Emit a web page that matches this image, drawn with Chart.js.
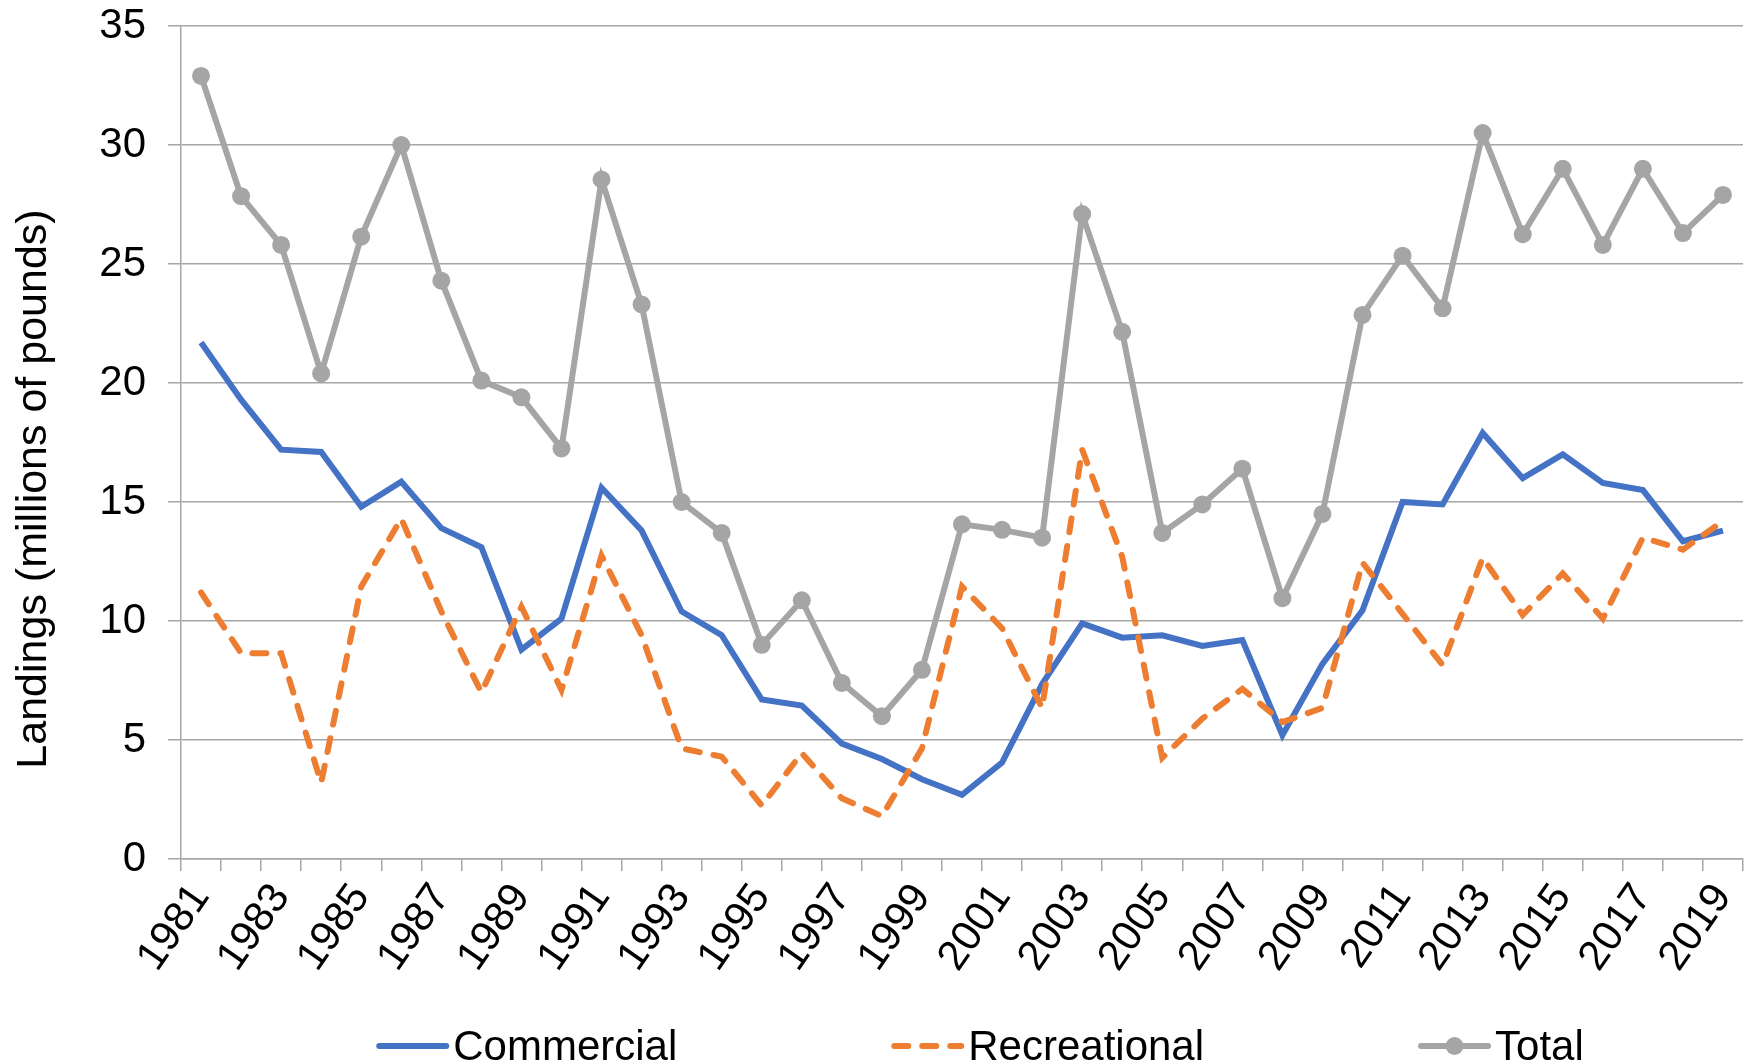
<!DOCTYPE html>
<html>
<head>
<meta charset="utf-8">
<script src="https://cdn.jsdelivr.net/npm/chart.js@4.4.1/dist/chart.umd.min.js"></script>
<style>
  html, body { margin: 0; padding: 0; background: #fff; }
  canvas { display: block; }
</style>
</head>
<body>
<canvas id="myChart" width="1754" height="1064"></canvas>
<script>
const years = [
  "1981", "1982", "1983", "1984", "1985", "1986", "1987", "1988", "1989", "1990",
  "1991", "1992", "1993", "1994", "1995", "1996", "1997", "1998", "1999", "2000",
  "2001", "2002", "2003", "2004", "2005", "2006", "2007", "2008", "2009", "2010",
  "2011", "2012", "2013", "2014", "2015", "2016", "2017", "2018", "2019",
];
const commercial = [
  21.7, 19.3, 17.2, 17.1, 14.8, 15.85, 13.9, 13.1, 8.8, 10.1,
  15.6, 13.8, 10.4, 9.4, 6.7, 6.45, 4.85, 4.2, 3.35, 2.7,
  4.05, 7.35, 9.9, 9.3, 9.4, 8.95, 9.2, 5.2, 8.2, 10.45,
  15.0, 14.9, 17.9, 16.0, 17.0, 15.8, 15.5, 13.35, 13.8,
];
const recreational = [
  11.2, 8.65, 8.65, 3.2, 11.45, 14.3, 10.4, 7.0, 10.6, 7.1,
  12.75, 9.4, 4.65, 4.3, 2.25, 4.45, 2.55, 1.8, 4.65, 11.45,
  9.7, 6.35, 17.2, 12.7, 4.25, 5.9, 7.15, 5.75, 6.35, 12.45,
  10.3, 8.15, 12.65, 10.25, 12.0, 10.1, 13.5, 13.0, 14.2,
];
const total = [
  32.9, 27.85, 25.8, 20.4, 26.15, 30.0, 24.3, 20.1, 19.4, 17.25,
  28.55, 23.3, 15.0, 13.7, 9.0, 10.87, 7.4, 6.0, 7.95, 14.06,
  13.83, 13.5, 27.1, 22.15, 13.7, 14.9, 16.4, 10.96, 14.5, 22.86,
  25.35, 23.14, 30.5, 26.25, 29.0, 25.8, 29.0, 26.3, 27.9,
];
const yTitle = "Landings (millions of pounds)";

const FONT = "'Liberation Sans', Arial, sans-serif";
const gridGray = "#a6a6a6";

// y title sits a bit below the axis middle in the original, so draw it here
const sideTitle = {
  id: "sideTitle",
  afterDraw(chart) {
    const ctx = chart.ctx;
    ctx.save();
    ctx.translate(34, 489);
    ctx.rotate(-Math.PI / 2);
    ctx.font = "43px " + FONT;
    ctx.fillStyle = "#000";
    ctx.textAlign = "center";
    ctx.textBaseline = "middle";
    ctx.fillText(yTitle, 0, 0);
    ctx.restore();
  },
};

// Excel-style legend: line sample (with marker for Total) then text
const bottomLegend = {
  id: "bottomLegend",
  afterDraw(chart) {
    const ctx = chart.ctx;
    const items = chart.data.datasets.map((ds) => ({
      text: ds.label,
      color: ds.borderColor,
      dash: ds.borderDash || [],
      marker: ds.pointRadius > 0,
    }));
    const lineLen = 73;
    const gap = 4;
    const itemGap = 214;
    ctx.save();
    ctx.font = "42px " + FONT;
    const widths = items.map((it) => lineLen + gap + ctx.measureText(it.text).width);
    const full = widths.reduce((a, b) => a + b, 0) + itemGap * (items.length - 1);
    let x = (chart.chartArea.left + chart.chartArea.right) / 2 - full / 2 + 18;
    const y = 1046;
    items.forEach((it, i) => {
      ctx.strokeStyle = it.color;
      ctx.lineWidth = 6;
      ctx.lineCap = "round";
      ctx.setLineDash(it.dash);
      ctx.beginPath();
      ctx.moveTo(x + 3, y);
      ctx.lineTo(x + lineLen - 3, y);
      ctx.stroke();
      ctx.setLineDash([]);
      if (it.marker) {
        ctx.fillStyle = it.color;
        ctx.beginPath();
        ctx.arc(x + lineLen / 2, y, 9, 0, Math.PI * 2);
        ctx.fill();
      }
      ctx.fillStyle = "#000";
      ctx.textBaseline = "middle";
      ctx.textAlign = "left";
      ctx.fillText(it.text, x + lineLen + gap, y + 2);
      x += widths[i] + itemGap;
    });
    ctx.restore();
  },
};

const data = {
  labels: years,
  datasets: [
    {
      label: "Commercial",
      data: commercial,
      borderColor: "#4472c4",
      backgroundColor: "#4472c4",
      borderWidth: 6,
      pointRadius: 0,
      order: 3,
    },
    {
      label: "Recreational",
      data: recreational,
      borderColor: "#ed7d31",
      backgroundColor: "#ed7d31",
      borderWidth: 6,
      borderDash: [14, 14],
      borderCapStyle: "round",
      pointRadius: 0,
      order: 2,
    },
    {
      label: "Total",
      data: total,
      borderColor: "#a5a5a5",
      backgroundColor: "#a5a5a5",
      borderWidth: 6,
      pointRadius: 9,
      pointBorderWidth: 0,
      order: 1,
    },
  ],
};

const options = {
  responsive: false,
  animation: false,
  events: [],
  layout: {
    padding: { left: 0, right: 11, top: 26, bottom: 55 },
  },
  elements: { line: { tension: 0 } },
  scales: {
    x: {
      offset: true,
      afterFit: (scale) => {
        scale.height = 150;
        scale.paddingLeft = 0;
        scale.paddingRight = 0;
      },
      grid: {
        offset: true,
        drawOnChartArea: false,
        drawTicks: true,
        tickLength: 12,
        color: gridGray,
        lineWidth: 1.5,
      },
      border: { color: gridGray, width: 1.5 },
      ticks: {
        autoSkip: false,
        minRotation: 55,
        maxRotation: 55,
        padding: 4,
        color: "#000",
        font: { family: FONT, size: 42 },
        callback: function (value, index) {
          return index % 2 === 0 ? this.getLabelForValue(value) : "";
        },
      },
    },
    y: {
      min: 0,
      max: 35,
      afterFit: (scale) => {
        scale.width = 181;
        scale.paddingTop = 0;
        scale.paddingBottom = 0;
      },
      grid: {
        color: gridGray,
        lineWidth: 1.5,
        tickLength: 13,
      },
      border: { color: gridGray, width: 1.5 },
      ticks: {
        stepSize: 5,
        padding: 22,
        color: "#000",
        font: { family: FONT, size: 42 },
      },
    },
  },
  plugins: {
    legend: { display: false },
    tooltip: { enabled: false },
  },
};

new Chart(document.getElementById("myChart"), {
  type: "line",
  data,
  options,
  plugins: [sideTitle, bottomLegend],
});
</script>
</body>
</html>
